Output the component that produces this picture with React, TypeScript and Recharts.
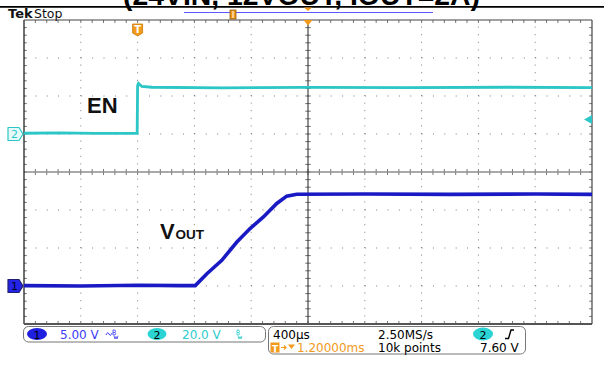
import { LineChart, Line, XAxis, YAxis, ReferenceLine, ReferenceDot } from 'recharts';

// time in ms from trigger (400us/div, trigger offset 1.2ms), values in volts
const enTime = [-0.8, -0.55, -0.3, -0.003, 0.0, 0.006, 0.03, 0.1, 0.6, 1.2, 1.9, 2.6, 3.2];
const enVolts = [0.4, 0.6, 0.3, 0.4, 25.5, 26.6, 25.0, 24.6, 24.3, 24.5, 24.4, 24.6, 24.4];

const voutTime = [-0.8, -0.4, 0.0, 0.3, 0.406, 0.488, 0.593, 0.699, 0.792, 0.886, 0.98, 1.05, 1.121, 1.6, 2.2, 2.8, 3.2];
const voutVolts = [0.05, 0.0, 0.1, 0.05, 0.05, 1.62, 3.38, 5.79, 7.56, 9.09, 10.86, 11.82, 12.08, 12.1, 12.05, 12.1, 12.05];

const gridTimes = [-0.4, 0, 0.4, 0.8, 1.6, 2.0, 2.4, 2.8];
const gridDivs = [-3, -2, -1, 1, 2, 3];
const centerTime = 1.2;
const triggerTime = 0;
const triggerLevel = 7.6;

const T0 = -0.8;
const T1 = 3.2;

const enData = enTime.map((t, i) => ({ t, v: enVolts[i] }));
const voutData = voutTime.map((t, i) => ({ t, v: voutVolts[i] }));

const minorT = Array.from({ length: 49 }, (_, i) => T0 + (i + 1) * 0.08);
const minorD = Array.from({ length: 39 }, (_, i) => -4 + (i + 1) * 0.2);

const CYAN = '#2cc6c6';
const BLUE = '#1a1ac4';
const ORANGE = '#f29a1c';
const FONT = '"DejaVu Sans", sans-serif';
const BOLD = '"Liberation Sans", Arial, sans-serif';

const ax = { xAxisId: 't', yAxisId: 'div' };

const ChMarker = ({ cx, cy, label, filled }: any) => (
    <g>
        <path
            d={`M${cx - 16},${cy - 6.5} L${cx - 5},${cy - 6.5} L${cx - 1},${cy} L${cx - 5},${cy + 6.5} L${cx - 16},${cy + 6.5} Z`}
            fill={filled ? '#2424e6' : '#e6fafa'}
            stroke={filled ? '#202070' : CYAN}
            strokeWidth={1.2}
            strokeLinejoin="round"
        />
        <text x={cx - 9.5} y={cy + 4} textAnchor="middle" fontSize={11} fontFamily={FONT}
            fill={filled ? '#000033' : CYAN}>{label}</text>
    </g>
);

// small "bandwidth limited" glyph drawn as a path
const BwIcon = ({ x, color }: { x: number; color: string }) => (
    <path
        d={`M${x},330 L${x},335 M${x},330 L${x + 2},330 Q${x + 3},331.2 ${x + 2},332.5 L${x},332.5 M${x + 2},332.5 Q${x + 3.2},333.8 ${x + 2},335 L${x},335 M${x + 1},335.8 L${x + 2},339 L${x + 3},336.5 L${x + 4},339 L${x + 5},335.8`}
        fill="none" stroke={color} strokeWidth={0.8} />
);

const App = () => {
    return (
        <div style={{ position: 'absolute', left: 0, top: 0, width: 604, height: 382, background: '#fff', overflow: 'hidden' }}>
            <LineChart width={604} height={382} margin={{ top: 20, right: 12, bottom: 58, left: 24 }}>
                <XAxis xAxisId="t" type="number" dataKey="t" domain={[T0, T1]} allowDataOverflow hide />
                <YAxis yAxisId="div" type="number" domain={[-4, 4]} allowDataOverflow hide />
                <YAxis yAxisId="ch1" type="number" domain={[-5, 35]} allowDataOverflow hide />
                <YAxis yAxisId="ch2" type="number" domain={[-100, 60]} allowDataOverflow hide />

                {/* dotted graticule */}
                {gridTimes.map((t) => (
                    <ReferenceLine key={`gt${t}`} {...ax} x={t} stroke="#7a7a7a" strokeDasharray="1 6.6" />
                ))}
                {gridDivs.map((d) => (
                    <ReferenceLine key={`gd${d}`} {...ax} y={d} stroke="#7a7a7a" strokeDasharray="1 10.36" />
                ))}

                {/* minor ticks on centre lines and border */}
                {minorT.map((t, i) => (
                    <ReferenceLine key={`mc${i}`} {...ax} stroke="#777"
                        segment={[{ x: t, y: -0.08 }, { x: t, y: 0.08 }]} />
                ))}
                {minorT.map((t, i) => (
                    <ReferenceLine key={`mtop${i}`} {...ax} stroke="#777"
                        segment={[{ x: t, y: 4 }, { x: t, y: 3.92 }]} />
                ))}
                {minorT.map((t, i) => (
                    <ReferenceLine key={`mbot${i}`} {...ax} stroke="#777"
                        segment={[{ x: t, y: -4 }, { x: t, y: -3.92 }]} />
                ))}
                {minorD.map((d, i) => (
                    <ReferenceLine key={`mv${i}`} {...ax} stroke="#777"
                        segment={[{ x: centerTime - 0.02, y: d }, { x: centerTime + 0.02, y: d }]} />
                ))}
                {minorD.map((d, i) => (
                    <ReferenceLine key={`ml${i}`} {...ax} stroke="#777"
                        segment={[{ x: T0, y: d }, { x: T0 + 0.02, y: d }]} />
                ))}
                {minorD.map((d, i) => (
                    <ReferenceLine key={`mr${i}`} {...ax} stroke="#777"
                        segment={[{ x: T1, y: d }, { x: T1 - 0.02, y: d }]} />
                ))}

                {/* centre lines and frame */}
                <ReferenceLine {...ax} y={0} stroke="#8c8c8c" strokeWidth={1.5} />
                <ReferenceLine {...ax} x={centerTime} stroke="#222" strokeWidth={1} />
                <ReferenceLine {...ax} x={T0} stroke="#111" strokeWidth={1.2} />
                <ReferenceLine {...ax} x={T1} stroke="#444" strokeWidth={1.2} />
                <ReferenceLine {...ax} y={4} stroke="#444" strokeWidth={1.2} />
                <ReferenceLine {...ax} y={-4} stroke="#555" strokeWidth={2.2} />

                <Line xAxisId="t" yAxisId="ch2" data={enData} dataKey="v" type="linear" stroke={CYAN}
                    strokeWidth={2.8} dot={false} activeDot={false} isAnimationActive={false} />
                <Line xAxisId="t" yAxisId="ch1" data={voutData} dataKey="v" type="linear" stroke={BLUE}
                    strokeWidth={3.6} dot={false} activeDot={false} isAnimationActive={false} />

                {/* channel ground markers, trigger level, trigger position */}
                <ReferenceDot xAxisId="t" yAxisId="ch2" x={T0} y={0} ifOverflow="visible"
                    shape={(p: any) => <ChMarker cx={p.cx} cy={p.cy} label="2" filled={false} />} />
                <ReferenceDot xAxisId="t" yAxisId="ch1" x={T0} y={0} ifOverflow="visible"
                    shape={(p: any) => <ChMarker cx={p.cx} cy={p.cy} label="1" filled />} />
                <ReferenceDot xAxisId="t" yAxisId="ch2" x={T1} y={triggerLevel} ifOverflow="visible"
                    shape={(p: any) => (
                        <path d={`M${p.cx - 8},${p.cy} L${p.cx},${p.cy - 4.5} L${p.cx},${p.cy + 4.5} Z`} fill={CYAN} />
                    )} />
                <ReferenceDot {...ax} x={triggerTime} y={4} ifOverflow="visible"
                    shape={(p: any) => (
                        <g>
                            <path d={`M${p.cx - 5},${p.cy + 4} L${p.cx + 5},${p.cy + 4} L${p.cx + 5},${p.cy + 13} L${p.cx},${p.cy + 16} L${p.cx - 5},${p.cy + 13} Z`}
                                fill={ORANGE} stroke="#c87800" strokeWidth={0.8} />
                            <text x={p.cx} y={p.cy + 13} textAnchor="middle" fontSize={10} fontWeight="bold"
                                fontFamily={FONT} fill="#fff">T</text>
                        </g>
                    )} />
                <ReferenceDot {...ax} x={centerTime} y={4} ifOverflow="visible"
                    shape={(p: any) => (
                        <path d={`M${p.cx - 4.5},${p.cy} L${p.cx + 4.5},${p.cy} L${p.cx},${p.cy + 5.5} Z`} fill={ORANGE} />
                    )} />
            </LineChart>

            <svg width={604} height={382} style={{ position: 'absolute', left: 0, top: 0, pointerEvents: 'none' }}>
                {/* header */}
                <text x={123} y={5} fontFamily={BOLD} fontWeight="bold" fontSize={27} textLength={357}
                    lengthAdjust="spacingAndGlyphs" fill="#000">(24VIN, 12VOUT, IOUT=2A)</text>
                <line x1={0} x2={604} y1={6.8} y2={6.8} stroke="#000" strokeWidth={1.8} />
                <text x={8} y={18} fontFamily={FONT} fontWeight="bold" fontSize={13} fill="#111">Tek</text>
                <text x={34} y={18} fontFamily={FONT} fontSize={12.5} fill="#111">Stop</text>
                <line x1={184} x2={433} y1={12.5} y2={12.5} stroke="#5a5aff" strokeWidth={1} />
                <rect x={230} y={10} width={6} height={9} fill={ORANGE} stroke="#8a5a10" strokeWidth={0.8} />
                <line x1={233} x2={233} y1={11} y2={18} stroke="#fff" strokeWidth={1} />
                <path d="M304,7.5 L312,7.5 L308,11 Z" fill={ORANGE} />

                {/* trace labels */}
                <text x={87} y={113} fontFamily={BOLD} fontWeight="bold" fontSize={22} fill="#111">EN</text>
                <text x={160} y={239} fontFamily={BOLD} fontWeight="bold" fontSize={22} fill="#111">V</text>
                <text x={175.5} y={239} fontFamily={BOLD} fontWeight="bold" fontSize={13.5} fill="#111">OUT</text>

                {/* channel readout box */}
                <rect x={23.5} y={326.5} width={242} height={15.5} rx={5} fill="#fff" stroke="#777" />
                <ellipse cx={37} cy={334} rx={10} ry={6} fill="#1f1fe0" />
                <text x={37} y={338.5} textAnchor="middle" fontFamily={FONT} fontSize={11} fill="#000">1</text>
                <text x={60} y={338.5} fontFamily={FONT} fontSize={12} fill="#3b3bf5">5.00 V</text>
                <path d="M106,335 Q107.5,331 109,334 Q110.5,337 112,333" fill="none" stroke="#3b3bf5" strokeWidth={1} />
                <BwIcon x={113} color="#3b3bf5" />
                <ellipse cx={157} cy={334} rx={9.5} ry={6} fill="#2bd3d3" />
                <text x={157} y={338.5} textAnchor="middle" fontFamily={FONT} fontSize={11} fill="#000">2</text>
                <text x={182} y={338.5} fontFamily={FONT} fontSize={12} fill="#2ccccc">20.0 V</text>
                <BwIcon x={237} color="#2ccccc" />

                {/* timebase / trigger box */}
                <rect x={268.5} y={326.5} width={257} height={27.5} rx={5} fill="#fff" stroke="#777" />
                <text x={273} y={338.5} fontFamily={FONT} fontSize={12} fill="#000">400µs</text>
                <text x={378} y={338.5} fontFamily={FONT} fontSize={12} fill="#000">2.50MS/s</text>
                <ellipse cx={483} cy={334} rx={10} ry={6.5} fill="#2bd3d3" />
                <text x={483} y={338.5} textAnchor="middle" fontFamily={FONT} fontSize={11} fill="#000">2</text>
                <path d="M505,338.5 L508.5,338.5 L511,330 L514,330" fill="none" stroke="#000" strokeWidth={1.4} />
                <rect x={270.5} y={342.5} width={9} height={10} fill={ORANGE} />
                <text x={275} y={351.5} textAnchor="middle" fontFamily={FONT} fontWeight="bold" fontSize={9} fill="#fff">T</text>
                <path d="M281,347.5 L286,347.5 M284,345.5 L286,347.5 L284,349.5" fill="none" stroke={ORANGE} strokeWidth={1.2} />
                <path d="M288,344.5 L295,344.5 L291.5,349 Z" fill={ORANGE} />
                <text x={297} y={351.5} fontFamily={FONT} fontSize={12} fill={ORANGE}>1.20000ms</text>
                <text x={378} y={351.5} fontFamily={FONT} fontSize={12} fill="#000">10k points</text>
                <text x={480} y={351.5} fontFamily={FONT} fontSize={12} fill="#000">7.60 V</text>
            </svg>
        </div>
    );
};

export default App;
